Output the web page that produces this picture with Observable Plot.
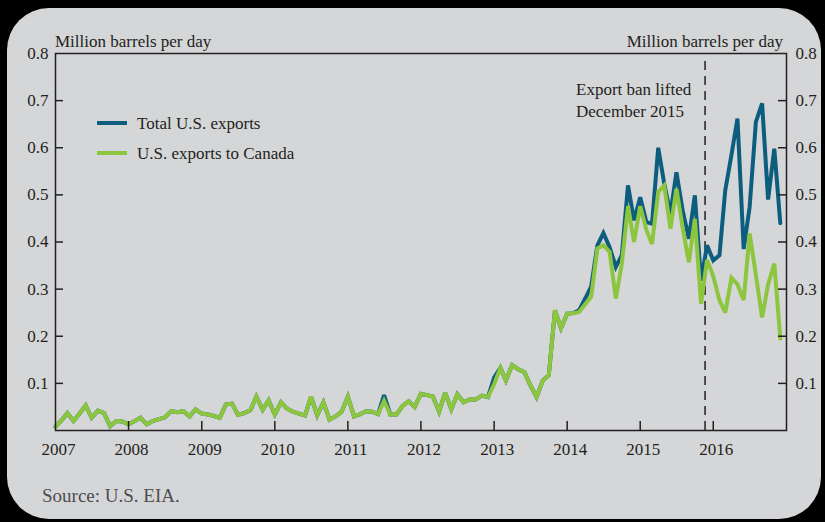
<!DOCTYPE html>
<html>
<head>
<meta charset="utf-8">
<script src="https://cdn.jsdelivr.net/npm/d3@7"></script>
<script src="https://cdn.jsdelivr.net/npm/@observablehq/plot@0.6"></script>
<style>
  html, body { margin: 0; padding: 0; width: 825px; height: 522px; overflow: hidden; background: #000; }
  .card { position: absolute; left: 7px; top: 8px; width: 814px; height: 511px; border-radius: 42px; background: #d5d6d8; }
  #chart { position: absolute; left: 0; top: 0; }
  #chart svg, #chart svg text { font-family: "Liberation Serif", "Times New Roman", serif !important; font-size: 17px; }
  .txt { position: absolute; font-family: "Liberation Serif", "Times New Roman", serif; color: #231f20; font-size: 17px; white-space: nowrap; line-height: 1; }
  .sw { position: absolute; width: 30px; height: 4px; }
</style>
</head>
<body>
<div class="card"></div>
<div id="chart"></div>
<div class="txt" style="left:55px; top:33px;">Million barrels per day</div>
<div class="txt" style="right:42px; top:33px;">Million barrels per day</div>
<div class="txt" style="left:576px; top:81px;">Export ban lifted</div>
<div class="txt" style="left:576px; top:103px;">December 2015</div>
<div class="sw" style="left:97px; top:121px; background:#0d5e7e;"></div>
<div class="txt" style="left:137px; top:115px;">Total U.S. exports</div>
<div class="sw" style="left:97px; top:151px; background:#8cc63f;"></div>
<div class="txt" style="left:137px; top:145px;">U.S. exports to Canada</div>
<div class="txt" style="left:42px; top:486px; font-size:19px; color:#4d4d4f;">Source: U.S. EIA.</div>
<script>
// Monthly values, Jan 2007 – Dec 2016 (million barrels per day)
const totalExports = [
  0.008,0.022,0.037,0.020,0.036,0.053,0.027,0.042,0.037,0.009,0.020,0.019,
  0.013,0.020,0.027,0.013,0.020,0.024,0.028,0.041,0.039,0.041,0.030,0.045,
  0.036,0.034,0.031,0.027,0.055,0.057,0.033,0.037,0.043,0.072,0.044,0.064,
  0.034,0.060,0.047,0.040,0.036,0.032,0.072,0.032,0.060,0.023,0.030,0.040,
  0.072,0.030,0.034,0.041,0.040,0.035,0.075,0.034,0.034,0.052,0.062,0.050,
  0.078,0.075,0.072,0.040,0.080,0.045,0.077,0.060,0.066,0.066,0.074,0.071,
  0.112,0.133,0.106,0.139,0.130,0.124,0.096,0.071,0.106,0.117,0.255,0.217,
  0.248,0.249,0.255,0.280,0.306,0.393,0.419,0.389,0.347,0.372,0.520,0.446,
  0.495,0.442,0.439,0.600,0.524,0.460,0.548,0.467,0.407,0.499,0.318,0.393,
  0.361,0.372,0.510,0.585,0.662,0.385,0.475,0.655,0.694,0.490,0.598,0.440
];
const canadaExports = [
  0.008,0.022,0.037,0.020,0.036,0.053,0.027,0.042,0.037,0.009,0.020,0.019,
  0.013,0.020,0.027,0.013,0.020,0.024,0.028,0.041,0.039,0.041,0.030,0.045,
  0.036,0.034,0.031,0.027,0.055,0.057,0.033,0.037,0.043,0.072,0.044,0.064,
  0.034,0.060,0.047,0.040,0.036,0.032,0.072,0.032,0.060,0.023,0.030,0.040,
  0.072,0.030,0.034,0.041,0.040,0.035,0.063,0.034,0.034,0.052,0.062,0.050,
  0.078,0.075,0.072,0.040,0.080,0.045,0.077,0.060,0.066,0.066,0.074,0.071,
  0.098,0.133,0.106,0.139,0.130,0.124,0.096,0.071,0.106,0.117,0.255,0.217,
  0.248,0.249,0.251,0.268,0.284,0.386,0.393,0.379,0.280,0.354,0.476,0.400,
  0.476,0.425,0.396,0.506,0.520,0.428,0.513,0.430,0.357,0.449,0.269,0.362,
  0.327,0.276,0.250,0.324,0.310,0.277,0.418,0.330,0.240,0.310,0.354,0.195
];
const yTicks = [0.1,0.2,0.3,0.4,0.5,0.6,0.7,0.8];
const yearTicks = [2007,2008,2009,2010,2011,2012,2013,2014,2015,2016];
const banLifted = [new Date(Date.UTC(2015, 10, 21))];

const months = totalExports.map((_, i) => new Date(Date.UTC(2007, i, 1)));
const totalData = months.map((d, i) => ({date: d, value: totalExports[i]}));
const canadaData = months.map((d, i) => ({date: d, value: canadaExports[i]}));
const yearDates = yearTicks.map(y => new Date(Date.UTC(y, 0, 1)));

const W = 825, H = 522, mL = 55, mR = 39, mT = 53, mB = 92;
const pw = W - mL - mR, ph = H - mT - mB;
const ink = "#231f20";

const chart = Plot.plot({
  width: W, height: H,
  marginLeft: mL, marginRight: mR, marginTop: mT, marginBottom: mB,
  style: {background: "transparent", fontFamily: "'Liberation Serif', 'Times New Roman', serif", fontSize: "17px", color: ink},
  x: {type: "utc", domain: [new Date(Date.UTC(2007,0,1)), new Date(Date.UTC(2017,0,1))]},
  y: {domain: [0, 0.8]},
  marks: [
    Plot.ruleX(banLifted, {x: d => d, y1: 0, y2: 0.79, stroke: ink, strokeWidth: 1.5, strokeDasharray: "9,6"}),
    Plot.line(totalData, {x: "date", y: "value", stroke: "#0d5e7e", strokeWidth: 4, strokeLinejoin: "miter", strokeMiterlimit: 3}),
    Plot.line(canadaData, {x: "date", y: "value", stroke: "#8cc63f", strokeWidth: 4, strokeLinejoin: "miter", strokeMiterlimit: 3}),
    Plot.tickY(yTicks.slice(0, 7), {y: d => d, stroke: ink, strokeWidth: 1.5, insetRight: pw - 8}),
    Plot.tickY(yTicks.slice(0, 7), {y: d => d, stroke: ink, strokeWidth: 1.5, insetLeft: pw - 8}),
    Plot.tickX(yearDates.slice(1), {x: d => d, stroke: ink, strokeWidth: 1.5, insetTop: ph - 9}),
    Plot.axisY(yTicks, {anchor: "left", tickSize: 0, tickPadding: 7, tickFormat: d3.format(".1f"), label: null, fill: ink}),
    Plot.axisY(yTicks, {anchor: "right", tickSize: 0, tickPadding: 9, tickFormat: d3.format(".1f"), label: null, fill: ink}),
    Plot.axisX(yearDates, {anchor: "bottom", tickSize: 0, tickPadding: 12, tickFormat: d3.utcFormat("%Y"), label: null, dx: 3, fill: ink}),
    Plot.frame({stroke: ink, strokeWidth: 1.5})
  ]
});
document.getElementById("chart").appendChild(chart);
</script>
</body>
</html>
